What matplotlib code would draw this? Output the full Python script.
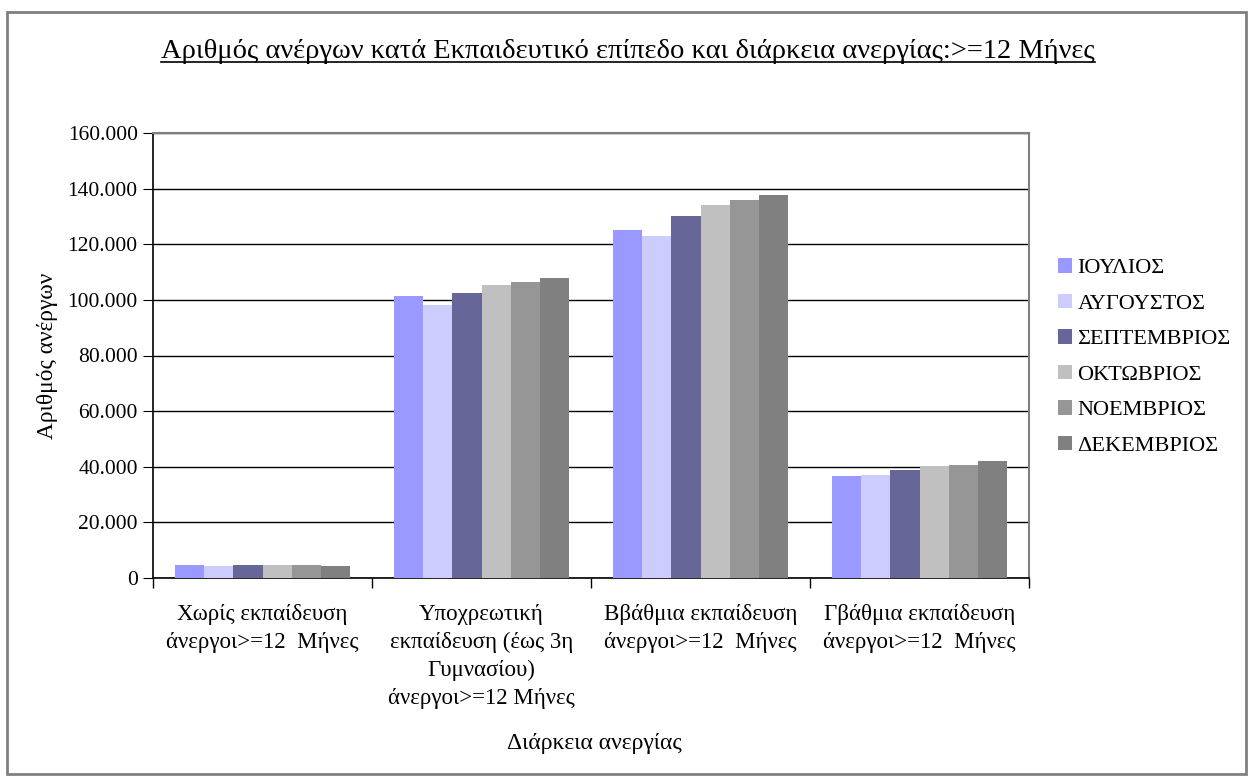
import matplotlib
matplotlib.use('Agg')
import matplotlib.pyplot as plt
import numpy as np
from matplotlib.patches import Rectangle
from matplotlib.lines import Line2D
from matplotlib.ticker import FuncFormatter, FixedLocator

plt.rcParams['font.family'] = ['Liberation Serif', 'DejaVu Serif']

categories = [
    'Χωρίς εκπαίδευση\nάνεργοι>=12  Μήνες',
    'Υποχρεωτική\nεκπαίδευση (έως 3η\nΓυμνασίου)\nάνεργοι>=12 Μήνες',
    'Ββάθμια εκπαίδευση\nάνεργοι>=12  Μήνες',
    'Γβάθμια εκπαίδευση\nάνεργοι>=12  Μήνες',
]
months = ['ΙΟΥΛΙΟΣ', 'ΑΥΓΟΥΣΤΟΣ', 'ΣΕΠΤΕΜΒΡΙΟΣ', 'ΟΚΤΩΒΡΙΟΣ', 'ΝΟΕΜΒΡΙΟΣ', 'ΔΕΚΕΜΒΡΙΟΣ']
ioulios = [4700, 101500, 125100, 36500]
avgoustos = [4300, 98300, 123000, 36900]
septemvrios = [4700, 102600, 130200, 38700]
oktovrios = [4700, 105500, 134100, 40100]
noemvrios = [4700, 106600, 135900, 40800]
dekemvrios = [4300, 107700, 137700, 41900]
series = [ioulios, avgoustos, septemvrios, oktovrios, noemvrios, dekemvrios]
colors = ['#9999FF', '#CCCCFF', '#666699', '#C0C0C0', '#969696', '#808080']

fig = plt.figure(figsize=(12.48, 7.76), dpi=100)
ax = fig.add_axes([153 / 1248, 1 - 578 / 776, 876 / 1248, 445 / 776])

x = np.arange(len(categories))
w = 0.8 / len(series)
for i, (vals, c, m) in enumerate(zip(series, colors, months)):
    ax.bar(x - 0.4 + w * (i + 0.5), vals, width=w, color=c, label=m, zorder=3)

ax.set_xlim(-0.5, len(categories) - 0.5)
ax.set_ylim(0, 160000)
ax.set_yticks(np.arange(0, 160001, 20000))
ax.yaxis.set_major_formatter(FuncFormatter(lambda v, p: f'{int(v):,}'.replace(',', '.')))
ax.grid(axis='y', color='black', linewidth=1, zorder=0)
ax.set_xticks(x)
ax.set_xticklabels(categories, fontsize=16.5, linespacing=1.42, va='top')
ax.xaxis.set_minor_locator(FixedLocator(np.arange(-0.5, len(categories), 1)))
ax.tick_params(axis='x', which='major', length=0, pad=19)
ax.tick_params(axis='x', which='minor', length=7, direction='out', width=1)
ax.tick_params(axis='y', length=7, direction='out', labelsize=15.5, pad=4)
for s in ['top', 'right']:
    ax.spines[s].set_color('#808080')
    ax.spines[s].set_linewidth(1.5)
for s in ['left', 'bottom']:
    ax.spines[s].set_color('black')
    ax.spines[s].set_linewidth(1.2)

fig.text(48 / 1248, 1 - 356 / 776, 'Αριθμός ανέργων', fontsize=16.8,
         rotation=90, ha='center', va='center')
fig.text(594 / 1248, 1 - 743 / 776, 'Διάρκεια ανεργίας', fontsize=17,
         ha='center', va='center')

ax.legend(loc='center left', bbox_to_anchor=(1058 / 1248, 1 - 357 / 776),
          bbox_transform=fig.transFigure, frameon=False, fontsize=16,
          borderpad=0, borderaxespad=0,
          handlelength=0.63, handleheight=0.63, handletextpad=0.25, labelspacing=0.69)

title = fig.text(628 / 1248, 1 - 51 / 776,
                 'Αριθμός ανέργων κατά Εκπαιδευτικό επίπεδο και διάρκεια ανεργίας:>=12 Μήνες',
                 fontsize=20.5, ha='center', va='center')
fig.canvas.draw()
bb = title.get_window_extent().transformed(fig.transFigure.inverted())
fig.add_artist(Line2D([bb.x0, bb.x1], [bb.y0 + 0.002, bb.y0 + 0.002],
                      color='black', linewidth=1.2, transform=fig.transFigure))

fig.add_artist(Rectangle((7 / 1248, 1 - 774 / 776), 1239 / 1248, 762 / 776,
                         transform=fig.transFigure, fill=False,
                         edgecolor='#808080', linewidth=2))

fig.savefig('out.png', dpi=100)
